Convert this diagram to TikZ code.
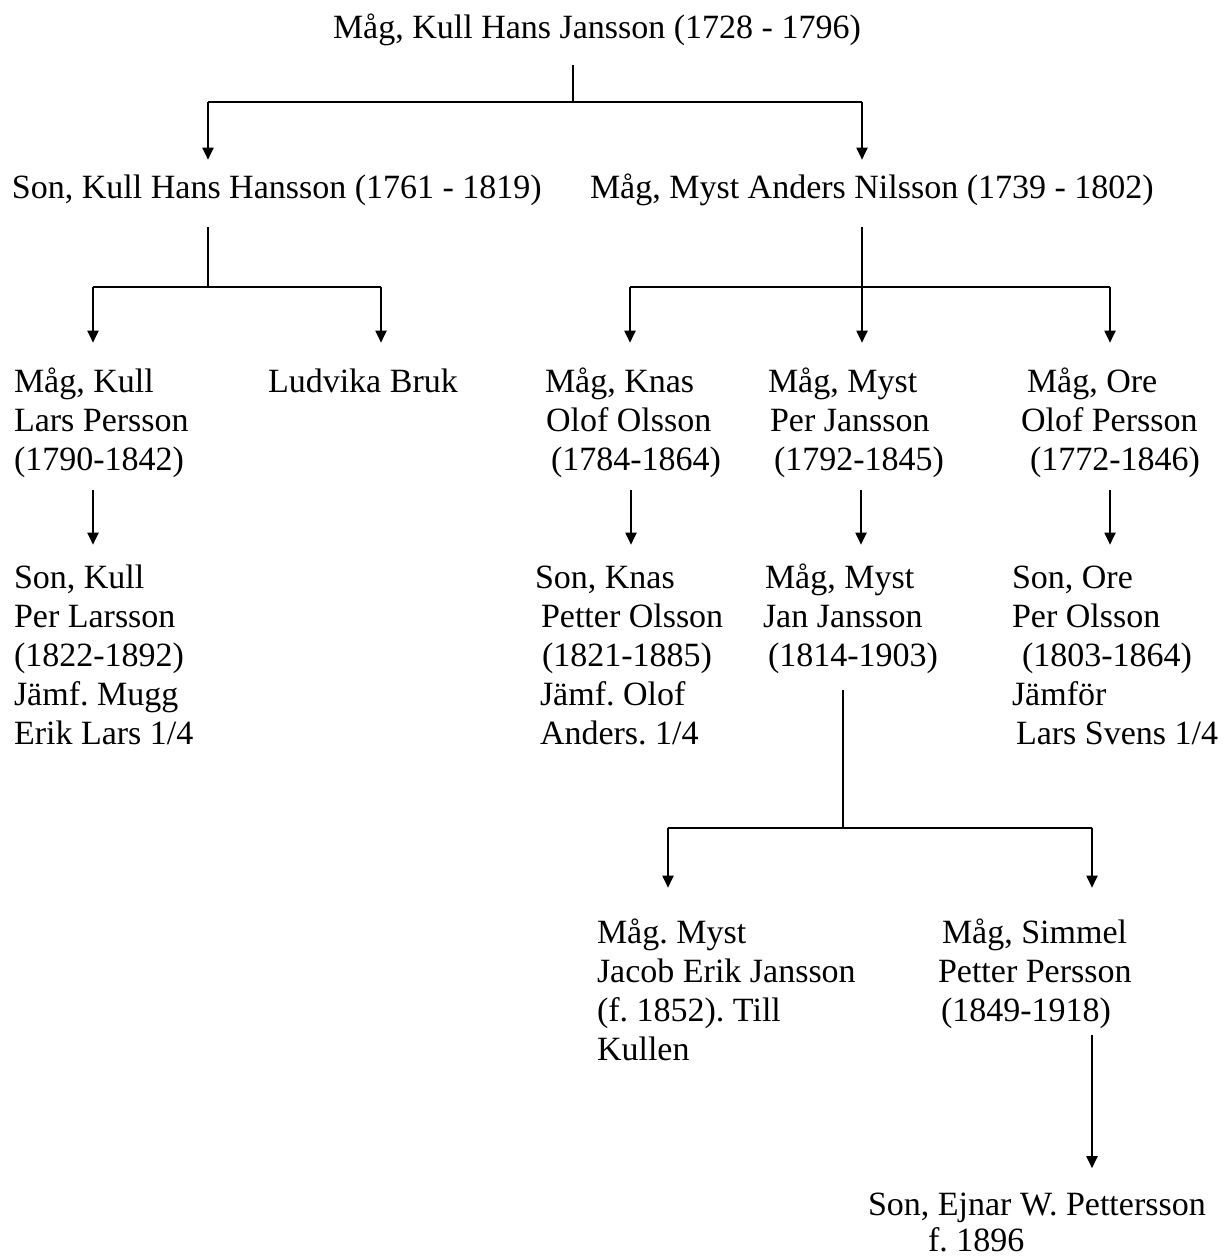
\documentclass[tikz,border=0pt]{standalone}
\usepackage{fontspec}
\setmainfont{Liberation Serif}
\usetikzlibrary{arrows.meta}
\frenchspacing
\begin{document}
\begin{tikzpicture}[x=1pt,y=-1pt,
  txt/.style={anchor=north west,inner sep=0pt,outer sep=0pt,align=left,
    font=\fontsize{34}{39}\selectfont\frenchspacing,yshift=27.3pt},
  bline/.style={line width=2.3pt},
  aline/.style={line width=1.9pt,-{Triangle[length=12pt,width=11pt]}}]
\useasboundingbox (0,0) rectangle (1230,1260);
% nodes
\node[txt] (top) at (333,39) {\strut Måg, Kull Hans Jansson (1728 - 1796)};
\node[txt] (hh) at (12,199) {\strut Son, Kull Hans Hansson (1761 - 1819)};
\node[txt] (an) at (590,199) {\strut Måg, Myst Anders Nilsson (1739 - 1802)};
\node[txt] (lp) at (14,392) {\strut Måg, Kull\\Lars Persson\\(1790-1842)};
\node[txt] (lb) at (268,392) {\strut Ludvika Bruk};
\node[txt] (oo) at (545,392) {\strut Måg, Knas\\\hspace*{1pt}Olof Olsson\\\hspace*{6pt}(1784-1864)};
\node[txt] (pj) at (768,392) {\strut Måg, Myst\\\hspace*{2pt}Per Jansson\\\hspace*{6pt}(1792-1845)};
\node[txt] (op) at (1021,392) {\strut\hspace*{6pt}Måg, Ore\\Olof Persson\\\hspace*{9pt}(1772-1846)};
\node[txt] (pl) at (14,588) {\strut Son, Kull\\Per Larsson\\(1822-1892)\\Jämf. Mugg\\Erik Lars 1/4};
\node[txt] (po) at (535,588) {\strut Son, Knas\\\hspace*{6pt}Petter Olsson\\\hspace*{7pt}(1821-1885)\\\hspace*{5pt}Jämf. Olof\\\hspace*{5pt}Anders. 1/4};
\node[txt] (jj) at (763,588) {\strut\hspace*{2pt}Måg, Myst\\Jan Jansson\\\hspace*{5pt}(1814-1903)};
\node[txt] (pe) at (1012,588) {\strut Son, Ore\\Per Olsson\\\hspace*{10pt}(1803-1864)\\Jämför\\\hspace*{4pt}Lars Svens 1/4};
\node[txt] (je) at (597,943) {\strut Måg. Myst\\Jacob Erik Jansson\\(f. 1852). Till\\Kullen};
\node[txt] (pp) at (938,943) {\strut\hspace*{4pt}Måg, Simmel\\Petter Persson\\\hspace*{3pt}(1849-1918)};
\node[txt,font=\fontsize{34}{36}\selectfont\frenchspacing,yshift=-1.5pt] (ep) at (868,1216) {\strut Son, Ejnar W. Pettersson\\\hspace*{60pt}f. 1896};
% junction coordinates
\coordinate (t0) at (573,65);  \coordinate (t1) at (573,102);
\coordinate (tL) at (208,102); \coordinate (tR) at (862,102);
\coordinate (a0) at (208,227); \coordinate (a1) at (208,287);
\coordinate (aL) at (93,287);  \coordinate (aR) at (381,287);
\coordinate (b0) at (862,227); \coordinate (b1) at (862,287);
\coordinate (bL) at (630,287); \coordinate (bR) at (1110,287);
\coordinate (c0) at (843,690); \coordinate (c1) at (843,828);
\coordinate (cL) at (668,828); \coordinate (cR) at (1092,828);
\coordinate (d1) at (93,490);  \coordinate (d2) at (631,490);
\coordinate (d3) at (861,490); \coordinate (d4) at (1110,490);
\coordinate (d5) at (1092,1035);
% connectors (tips stop just above each child text)
\draw[bline] (t0) -- (t1);
\draw[bline] (tL) -- (tR);
\draw[aline] (tL) -- ([yshift=12pt]hh.north -| tL);
\draw[aline] (tR) -- ([yshift=12pt]an.north -| tR);
\draw[bline] (a0) -- (a1);
\draw[bline] (aL) -- (aR);
\draw[aline] (aL) -- ([yshift=22pt]lp.north -| aL);
\draw[aline] (aR) -- ([yshift=22pt]lb.north -| aR);
\draw[bline] (b0) -- (b1);
\draw[bline] (bL) -- (bR);
\draw[aline] (bL) -- ([yshift=22pt]oo.north -| bL);
\draw[aline] (b1) -- ([yshift=22pt]pj.north -| b1);
\draw[aline] (bR) -- ([yshift=22pt]op.north -| bR);
\draw[aline] (d1) -- ([yshift=16pt]pl.north -| d1);
\draw[aline] (d2) -- ([yshift=16pt]po.north -| d2);
\draw[aline] (d3) -- ([yshift=16pt]jj.north -| d3);
\draw[aline] (d4) -- ([yshift=16pt]pe.north -| d4);
\draw[bline] (c0) -- (c1);
\draw[bline] (cL) -- (cR);
\draw[aline] (cL) -- ([yshift=28pt]je.north -| cL);
\draw[aline] (cR) -- ([yshift=28pt]pp.north -| cR);
\draw[aline] (d5) -- ([yshift=22pt]ep.north -| d5);
\end{tikzpicture}
\end{document}
